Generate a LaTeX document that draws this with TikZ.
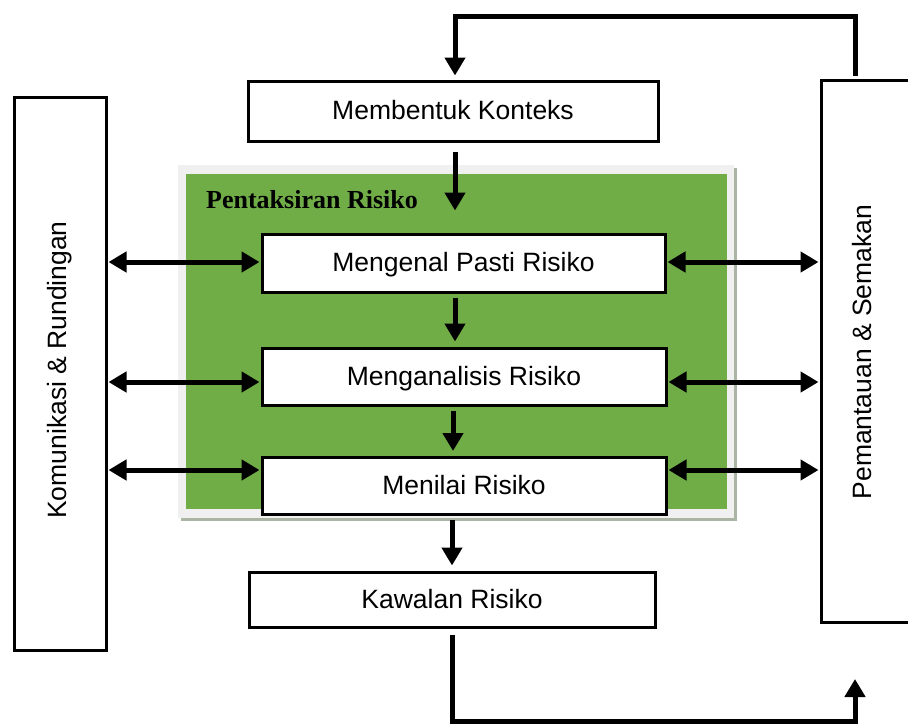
\documentclass[tikz,border=0pt]{standalone}
\usepackage{fontspec}
\setmainfont{Liberation Sans}
\newfontfamily\titlefont{Liberation Serif}
\usetikzlibrary{arrows.meta}
\definecolor{greenfill}{HTML}{70AD47}
\definecolor{framegray}{HTML}{F0F0F0}
\definecolor{shadowgray}{HTML}{ABB5A3}
\tikzset{
  box/.style={draw=black, line width=3pt, fill=white, inner sep=0pt,
    font=\fontsize{26.5}{30}\selectfont, text height=19pt, text depth=2pt},
  arr/.style={line width=5pt, -{Triangle[length=18pt,width=20pt]}},
  darr/.style={line width=5pt, {Triangle[length=18pt,width=20pt]}-{Triangle[length=18pt,width=20pt]}}
}
\begin{document}
\begin{tikzpicture}[x=1pt,y=-1pt]
\useasboundingbox (0,0) rectangle (908,726);
\fill[white] (0,0) rectangle (908,726);
% green assessment area
\fill[shadowgray] (181,168) rectangle (737,521);
\fill[framegray] (178,165) rectangle (734,518);
\fill[greenfill] (186,174) rectangle (727,509);
\node[anchor=base west, inner sep=0pt, font=\titlefont\bfseries\fontsize{26}{30}\selectfont] (pr) at (206,208) {Pentaksiran Risiko};
% boxes
\node[box, minimum width=92pt, minimum height=553pt] (kom) at (60,373.5) {};
\node[rotate=90, font=\fontsize{26.5}{30}\selectfont] (komt) at (60,370) {Komunikasi \& Rundingan};
\node[box, minimum width=92pt, minimum height=542pt] (pem) at (867,351) {};
\node[rotate=90, font=\fontsize{26.5}{30}\selectfont] (pemt) at (862,352) {Pemantauan \& Semakan};
\node[box, minimum width=410pt, minimum height=60pt] (mk) at (453,111) {Membentuk Konteks};
\node[box, minimum width=403pt, minimum height=58pt] (mp) at (463.5,263) {Mengenal Pasti Risiko};
\node[box, minimum width=404pt, minimum height=57pt] (ma) at (464,376.5) {Menganalisis Risiko};
\node[box, minimum width=404pt, minimum height=57pt] (mr) at (464,486) {Menilai Risiko};
\node[box, minimum width=406pt, minimum height=55pt] (kr) at (452,599.5) {Kawalan Risiko};
% vertical flow arrows
\draw[arr, shorten <=9pt, shorten >=22pt] (mk.south -| 455,0) -- (mp.north -| 455,0);
\draw[arr, shorten <=4pt, shorten >=5pt] (mp.south -| 455,0) -- (ma.north -| 455,0);
\draw[arr, shorten <=4pt, shorten >=5pt] (ma.south -| 453,0) -- (mr.north -| 453,0);
\draw[arr, shorten <=4pt, shorten >=5pt] (mr.south -| 452,0) -- (kr.north -| 452,0);
% side double arrows
\foreach \n/\y in {mp/262, ma/382, mr/470}{
  \draw[darr, shorten <=1pt, shorten >=1pt] (kom.east |- 0,\y) -- (\n.west |- 0,\y);
  \draw[darr, shorten <=1pt, shorten >=1pt] (\n.east |- 0,\y) -- (pem.west |- 0,\y);
}
% top feedback loop
\coordinate (tl1) at (855,16);
\coordinate (tl2) at (455,16);
\draw[arr, shorten <=3pt, shorten >=4pt, line join=miter] (pem.north -| 855,0) -- (tl1) -- (tl2) -- (mk.north -| 455,0);
% bottom feedback loop
\coordinate (bl1) at (452,721);
\coordinate (bl2) at (855,721);
\coordinate (bl3) at (855,679);
\draw[arr, shorten <=6pt, line join=miter] (kr.south -| 452,0) -- (bl1) -- (bl2) -- (bl3);
\end{tikzpicture}
\end{document}
